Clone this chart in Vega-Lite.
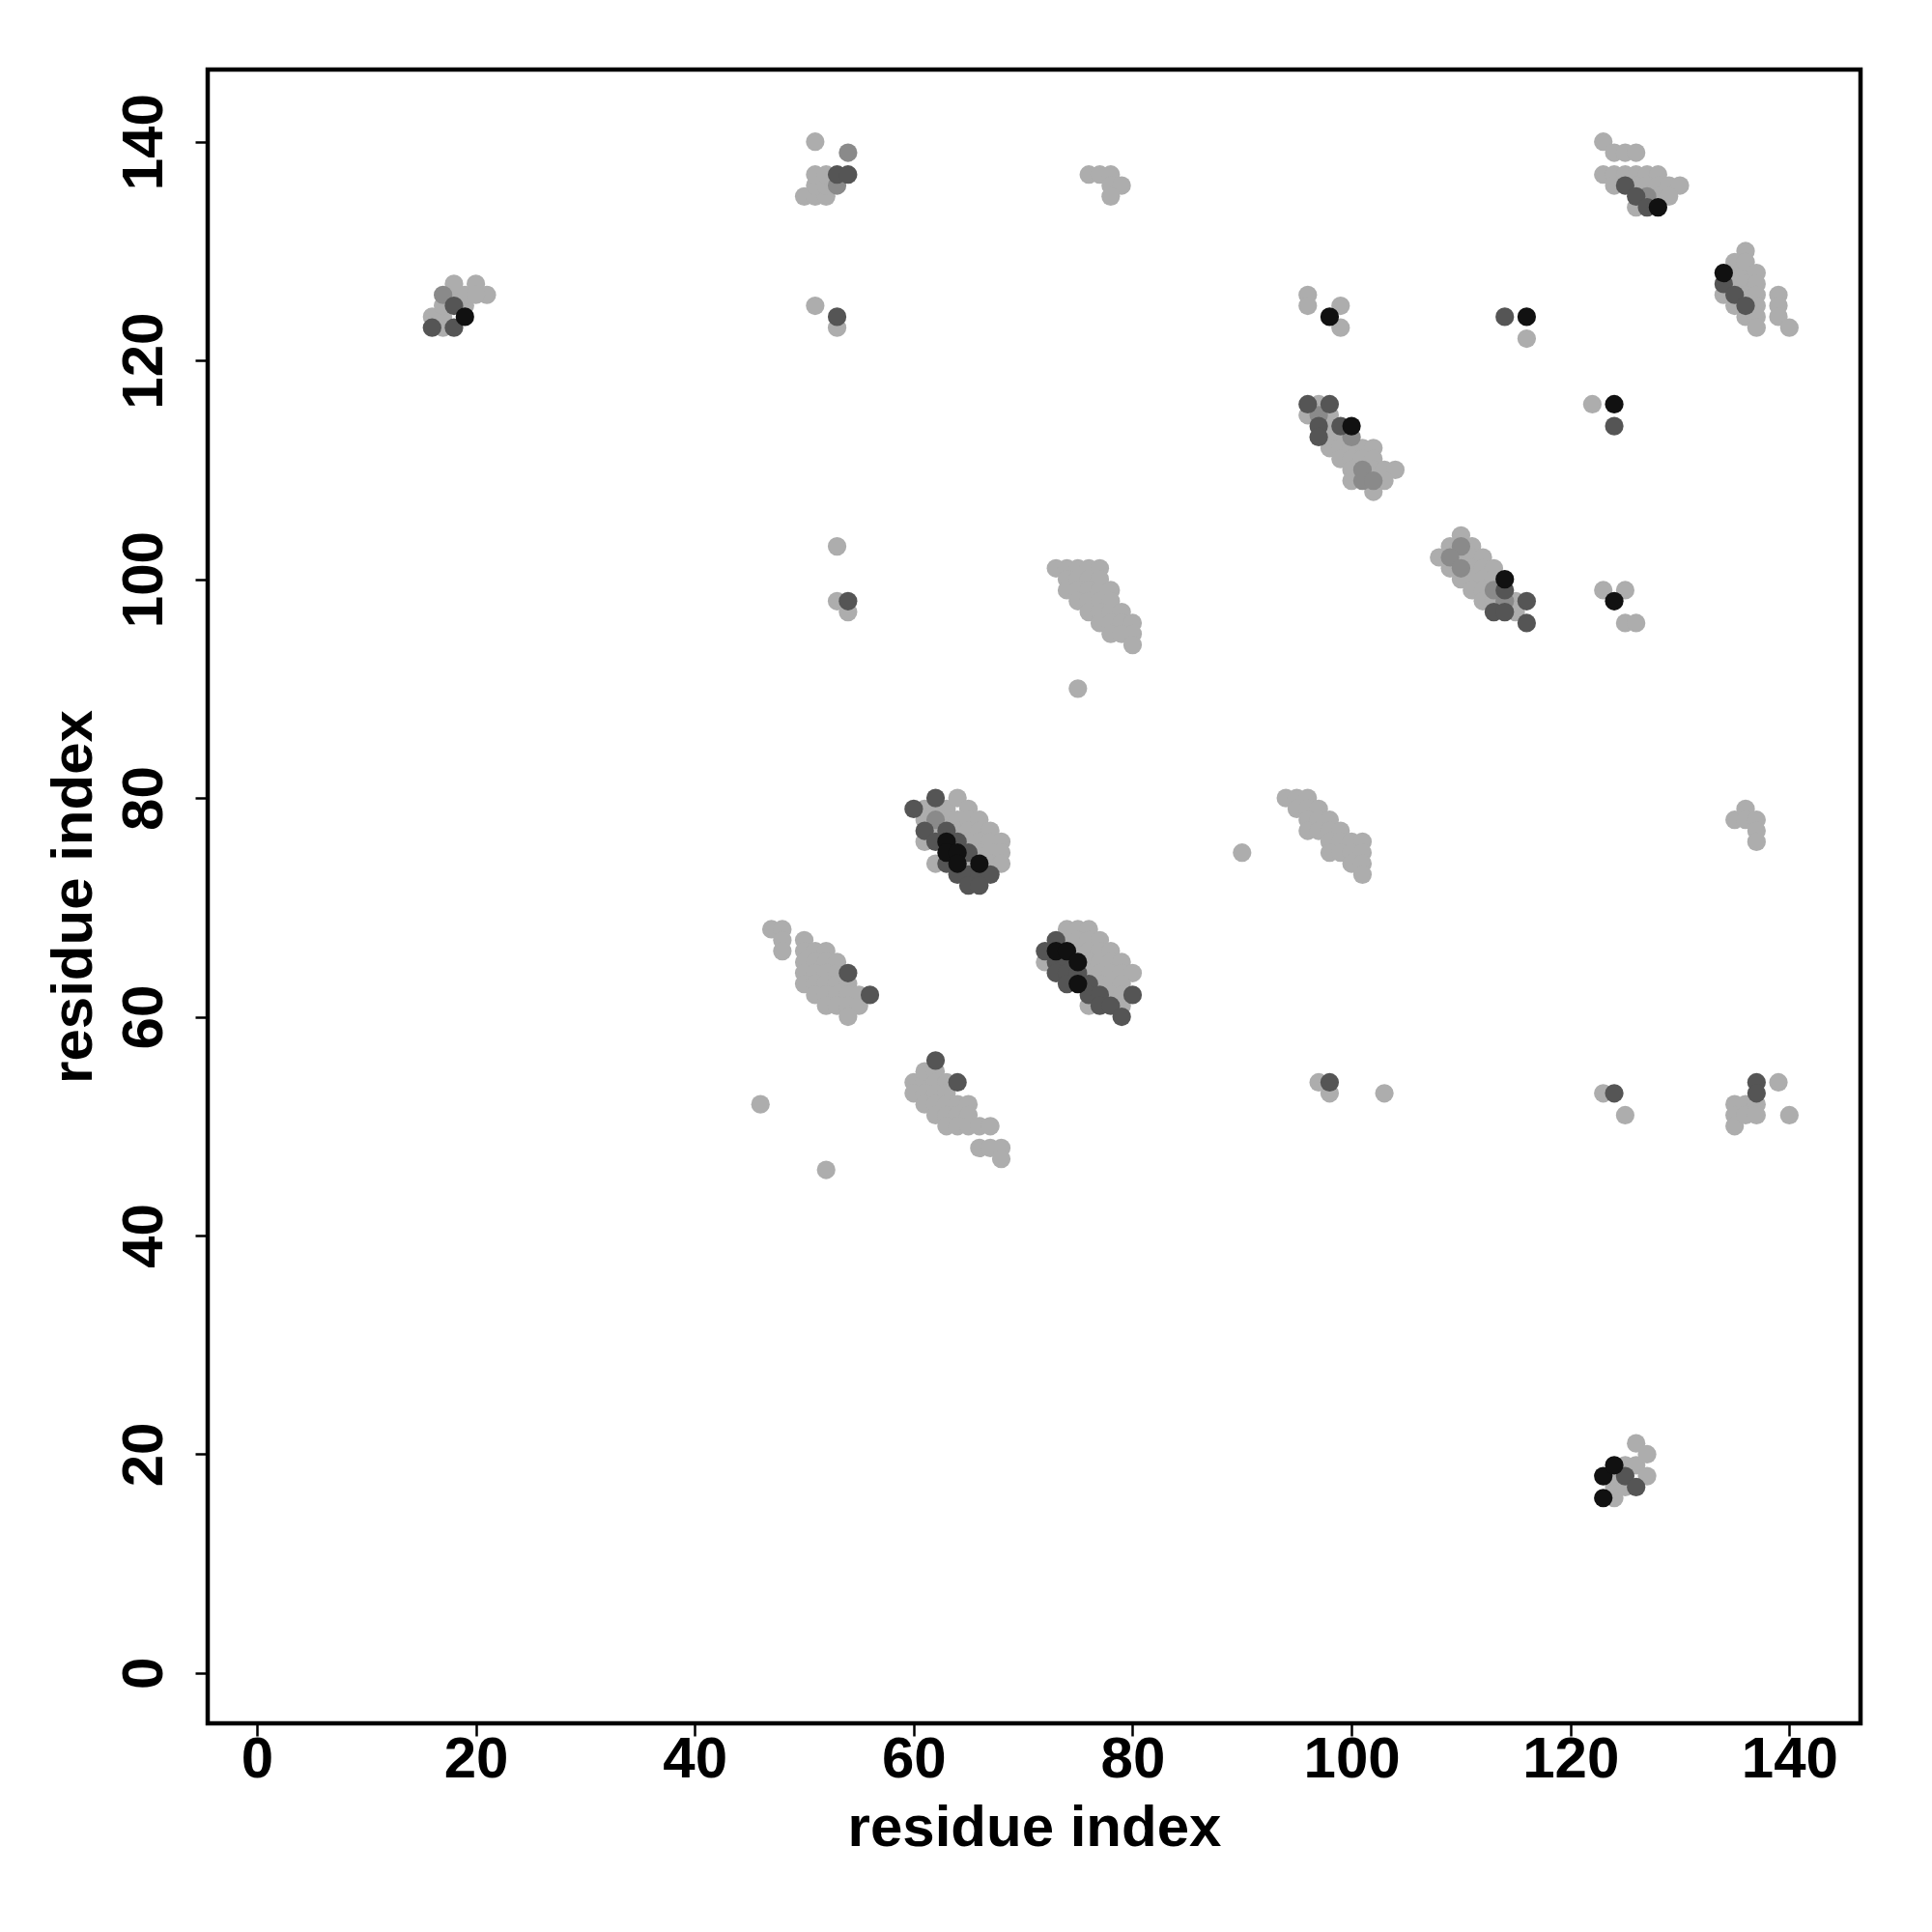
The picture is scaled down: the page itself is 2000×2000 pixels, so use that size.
{
  "$schema": "https://vega.github.io/schema/vega-lite/v6.json",
  "autosize": {"type": "none"},
  "width": 1711,
  "height": 1712,
  "padding": {"left": 215, "top": 72, "right": 74, "bottom": 216},
  "background": "white",
  "config": {
    "view": {"stroke": "black", "strokeWidth": 4.5},
    "font": "Liberation Sans",
    "axis": {
      "grid": false,
      "domain": false,
      "ticks": true,
      "tickColor": "black",
      "tickWidth": 2.5,
      "tickSize": 13,
      "labelFont": "Liberation Sans",
      "labelFontWeight": "bold",
      "labelFontSize": 60,
      "labelColor": "black",
      "titleFont": "Liberation Sans",
      "titleFontWeight": "bold",
      "titleFontSize": 60,
      "titleColor": "black"
    }
  },
  "data": {"values": [
    {"x":16,"y":123,"g":3},{"x":17,"y":123,"g":1},{"x":18,"y":123,"g":3},{"x":16,"y":124,"g":1},{"x":17,"y":124,"g":1},{"x":19,"y":124,"g":4},{"x":17,"y":125,"g":1},{"x":18,"y":125,"g":3},{"x":19,"y":125,"g":1},{"x":17,"y":126,"g":2},{"x":18,"y":126,"g":1},{"x":19,"y":126,"g":1},{"x":18,"y":127,"g":1},{"x":20,"y":127,"g":1},{"x":21,"y":126,"g":1},{"x":20,"y":126,"g":1},
    {"x":50,"y":135,"g":1},{"x":51,"y":135,"g":1},{"x":52,"y":135,"g":1},{"x":51,"y":136,"g":1},{"x":52,"y":136,"g":1},{"x":53,"y":136,"g":2},{"x":51,"y":137,"g":1},{"x":52,"y":137,"g":1},{"x":53,"y":137,"g":3},{"x":54,"y":137,"g":3},{"x":54,"y":139,"g":2},{"x":51,"y":140,"g":1},
    {"x":51,"y":125,"g":1},{"x":53,"y":124,"g":3},{"x":53,"y":123,"g":1},
    {"x":76,"y":137,"g":1},{"x":77,"y":137,"g":1},{"x":78,"y":137,"g":1},{"x":78,"y":136,"g":1},{"x":79,"y":136,"g":1},{"x":78,"y":135,"g":1},
    {"x":123,"y":140,"g":1},{"x":124,"y":139,"g":1},{"x":125,"y":139,"g":1},{"x":126,"y":139,"g":1},
    {"x":123,"y":137,"g":1},{"x":124,"y":137,"g":1},{"x":125,"y":137,"g":1},{"x":126,"y":137,"g":1},{"x":127,"y":137,"g":1},{"x":128,"y":137,"g":1},
    {"x":124,"y":136,"g":1},{"x":125,"y":136,"g":3},{"x":126,"y":136,"g":1},{"x":127,"y":136,"g":1},{"x":128,"y":136,"g":1},{"x":129,"y":136,"g":1},{"x":130,"y":136,"g":1},
    {"x":126,"y":135,"g":3},{"x":127,"y":135,"g":2},{"x":128,"y":135,"g":1},{"x":129,"y":135,"g":1},
    {"x":126,"y":134,"g":1},{"x":127,"y":134,"g":3},{"x":128,"y":134,"g":4},
    {"x":134,"y":128,"g":4},{"x":135,"y":128,"g":1},{"x":136,"y":128,"g":1},{"x":136,"y":130,"g":1},{"x":135,"y":129,"g":1},{"x":136,"y":129,"g":1},{"x":137,"y":128,"g":1},
    {"x":134,"y":127,"g":3},{"x":135,"y":127,"g":1},{"x":136,"y":127,"g":1},{"x":137,"y":127,"g":1},
    {"x":134,"y":126,"g":1},{"x":135,"y":126,"g":3},{"x":136,"y":126,"g":1},{"x":137,"y":126,"g":1},
    {"x":135,"y":125,"g":1},{"x":136,"y":125,"g":3},{"x":137,"y":125,"g":1},{"x":136,"y":124,"g":1},{"x":137,"y":124,"g":1},{"x":137,"y":123,"g":1},
    {"x":139,"y":126,"g":1},{"x":139,"y":125,"g":1},{"x":139,"y":124,"g":1},{"x":140,"y":123,"g":1},
    {"x":96,"y":126,"g":1},{"x":96,"y":125,"g":1},{"x":99,"y":125,"g":1},{"x":98,"y":124,"g":4},{"x":99,"y":123,"g":1},
    {"x":96,"y":116,"g":3},{"x":97,"y":116,"g":1},{"x":98,"y":116,"g":3},{"x":96,"y":115,"g":1},{"x":97,"y":115,"g":2},{"x":98,"y":115,"g":1},
    {"x":97,"y":114,"g":3},{"x":98,"y":114,"g":1},{"x":99,"y":114,"g":3},{"x":100,"y":114,"g":4},
    {"x":97,"y":113,"g":3},{"x":98,"y":113,"g":1},{"x":99,"y":113,"g":1},{"x":100,"y":113,"g":2},
    {"x":98,"y":112,"g":1},{"x":99,"y":112,"g":1},{"x":100,"y":112,"g":1},{"x":101,"y":112,"g":1},{"x":102,"y":112,"g":1},
    {"x":99,"y":111,"g":1},{"x":100,"y":111,"g":1},{"x":101,"y":111,"g":1},{"x":102,"y":111,"g":1},
    {"x":100,"y":110,"g":1},{"x":101,"y":110,"g":2},{"x":102,"y":110,"g":1},{"x":103,"y":110,"g":1},{"x":104,"y":110,"g":1},
    {"x":100,"y":109,"g":1},{"x":101,"y":109,"g":2},{"x":102,"y":109,"g":2},{"x":103,"y":109,"g":1},{"x":102,"y":108,"g":1},
    {"x":110,"y":104,"g":1},{"x":108,"y":102,"g":1},{"x":109,"y":103,"g":1},{"x":110,"y":103,"g":2},{"x":111,"y":103,"g":1},
    {"x":109,"y":102,"g":2},{"x":110,"y":102,"g":1},{"x":111,"y":102,"g":1},{"x":112,"y":102,"g":1},
    {"x":109,"y":101,"g":1},{"x":110,"y":101,"g":2},{"x":111,"y":101,"g":1},{"x":112,"y":101,"g":1},{"x":113,"y":101,"g":1},
    {"x":110,"y":100,"g":1},{"x":111,"y":100,"g":1},{"x":112,"y":100,"g":1},{"x":113,"y":100,"g":1},{"x":114,"y":100,"g":4},
    {"x":111,"y":99,"g":1},{"x":112,"y":99,"g":1},{"x":113,"y":99,"g":2},{"x":114,"y":99,"g":3},
    {"x":112,"y":98,"g":1},{"x":113,"y":98,"g":1},{"x":114,"y":98,"g":2},{"x":115,"y":98,"g":1},{"x":116,"y":98,"g":3},
    {"x":113,"y":97,"g":3},{"x":114,"y":97,"g":3},{"x":115,"y":97,"g":1},{"x":116,"y":96,"g":3},
    {"x":114,"y":124,"g":3},{"x":116,"y":124,"g":4},{"x":116,"y":122,"g":1},
    {"x":122,"y":116,"g":1},{"x":124,"y":116,"g":4},{"x":124,"y":114,"g":3},
    {"x":123,"y":99,"g":1},{"x":125,"y":99,"g":1},{"x":124,"y":98,"g":4},{"x":125,"y":96,"g":1},{"x":126,"y":96,"g":1},
    {"x":73,"y":101,"g":1},{"x":74,"y":101,"g":1},{"x":75,"y":101,"g":1},{"x":76,"y":101,"g":1},{"x":77,"y":101,"g":1},
    {"x":74,"y":100,"g":1},{"x":75,"y":100,"g":1},{"x":76,"y":100,"g":1},{"x":77,"y":100,"g":1},
    {"x":74,"y":99,"g":1},{"x":75,"y":99,"g":1},{"x":76,"y":99,"g":1},{"x":77,"y":99,"g":1},{"x":78,"y":99,"g":1},
    {"x":75,"y":98,"g":1},{"x":76,"y":98,"g":1},{"x":77,"y":98,"g":1},{"x":78,"y":98,"g":1},
    {"x":76,"y":97,"g":1},{"x":77,"y":97,"g":1},{"x":78,"y":97,"g":1},{"x":79,"y":97,"g":1},
    {"x":77,"y":96,"g":1},{"x":78,"y":96,"g":1},{"x":79,"y":96,"g":1},{"x":80,"y":96,"g":1},
    {"x":78,"y":95,"g":1},{"x":79,"y":95,"g":1},{"x":80,"y":95,"g":1},{"x":80,"y":94,"g":1},{"x":75,"y":90,"g":1},
    {"x":94,"y":80,"g":1},{"x":95,"y":80,"g":1},{"x":96,"y":80,"g":1},{"x":95,"y":79,"g":1},{"x":96,"y":79,"g":1},{"x":97,"y":79,"g":1},
    {"x":96,"y":78,"g":1},{"x":97,"y":78,"g":1},{"x":98,"y":78,"g":1},{"x":96,"y":77,"g":1},{"x":97,"y":77,"g":1},{"x":98,"y":77,"g":1},{"x":99,"y":77,"g":1},
    {"x":98,"y":76,"g":1},{"x":99,"y":76,"g":1},{"x":100,"y":76,"g":1},{"x":101,"y":76,"g":1},
    {"x":98,"y":75,"g":1},{"x":99,"y":75,"g":1},{"x":100,"y":75,"g":1},{"x":101,"y":75,"g":1},
    {"x":100,"y":74,"g":1},{"x":101,"y":74,"g":1},{"x":101,"y":73,"g":1},{"x":90,"y":75,"g":1},
    {"x":60,"y":79,"g":3},{"x":61,"y":79,"g":1},{"x":62,"y":80,"g":3},{"x":62,"y":79,"g":1},{"x":63,"y":79,"g":1},{"x":64,"y":80,"g":1},{"x":65,"y":79,"g":1},
    {"x":61,"y":78,"g":1},{"x":62,"y":78,"g":2},{"x":63,"y":78,"g":1},{"x":64,"y":78,"g":1},{"x":65,"y":78,"g":1},{"x":66,"y":78,"g":1},
    {"x":61,"y":77,"g":3},{"x":62,"y":77,"g":1},{"x":63,"y":77,"g":3},{"x":64,"y":77,"g":1},{"x":65,"y":77,"g":1},{"x":66,"y":77,"g":1},{"x":67,"y":77,"g":1},
    {"x":61,"y":76,"g":1},{"x":62,"y":76,"g":3},{"x":63,"y":76,"g":4},{"x":64,"y":76,"g":3},{"x":65,"y":76,"g":1},{"x":66,"y":76,"g":1},{"x":67,"y":76,"g":1},{"x":68,"y":76,"g":1},
    {"x":63,"y":75,"g":4},{"x":64,"y":75,"g":4},{"x":65,"y":75,"g":3},{"x":66,"y":75,"g":1},{"x":67,"y":75,"g":1},{"x":68,"y":75,"g":1},
    {"x":62,"y":74,"g":1},{"x":63,"y":74,"g":3},{"x":64,"y":74,"g":4},{"x":65,"y":74,"g":1},{"x":66,"y":74,"g":4},{"x":67,"y":74,"g":1},{"x":68,"y":74,"g":1},
    {"x":64,"y":73,"g":3},{"x":65,"y":73,"g":3},{"x":66,"y":73,"g":3},{"x":67,"y":73,"g":3},{"x":65,"y":72,"g":3},{"x":66,"y":72,"g":3},
    {"x":47,"y":68,"g":1},{"x":48,"y":68,"g":1},{"x":48,"y":67,"g":1},{"x":48,"y":66,"g":1},{"x":50,"y":67,"g":1},{"x":50,"y":66,"g":1},{"x":51,"y":66,"g":1},{"x":52,"y":66,"g":1},
    {"x":50,"y":65,"g":1},{"x":51,"y":65,"g":1},{"x":52,"y":65,"g":1},{"x":53,"y":65,"g":1},
    {"x":50,"y":64,"g":1},{"x":51,"y":64,"g":1},{"x":52,"y":64,"g":1},{"x":53,"y":64,"g":1},{"x":54,"y":64,"g":3},
    {"x":50,"y":63,"g":1},{"x":51,"y":63,"g":1},{"x":52,"y":63,"g":1},{"x":53,"y":63,"g":1},{"x":54,"y":63,"g":1},
    {"x":51,"y":62,"g":1},{"x":52,"y":62,"g":1},{"x":53,"y":62,"g":1},{"x":54,"y":62,"g":1},{"x":55,"y":62,"g":1},{"x":56,"y":62,"g":3},
    {"x":52,"y":61,"g":1},{"x":53,"y":61,"g":1},{"x":54,"y":61,"g":1},{"x":55,"y":61,"g":1},{"x":54,"y":60,"g":1},
    {"x":46,"y":52,"g":1},{"x":52,"y":46,"g":1},
    {"x":72,"y":66,"g":3},{"x":73,"y":67,"g":3},{"x":74,"y":68,"g":1},{"x":75,"y":68,"g":1},{"x":76,"y":68,"g":1},
    {"x":74,"y":67,"g":1},{"x":75,"y":67,"g":1},{"x":76,"y":67,"g":1},{"x":77,"y":67,"g":1},
    {"x":72,"y":65,"g":1},{"x":73,"y":65,"g":3},{"x":73,"y":66,"g":4},{"x":74,"y":66,"g":4},{"x":75,"y":66,"g":1},{"x":76,"y":66,"g":1},{"x":77,"y":66,"g":1},{"x":78,"y":66,"g":1},
    {"x":74,"y":65,"g":3},{"x":75,"y":65,"g":4},{"x":76,"y":65,"g":1},{"x":77,"y":65,"g":1},{"x":78,"y":65,"g":1},{"x":79,"y":65,"g":1},
    {"x":73,"y":64,"g":3},{"x":74,"y":64,"g":3},{"x":75,"y":64,"g":3},{"x":76,"y":64,"g":1},{"x":77,"y":64,"g":1},{"x":78,"y":64,"g":1},{"x":79,"y":64,"g":1},{"x":80,"y":64,"g":1},
    {"x":74,"y":63,"g":3},{"x":75,"y":63,"g":4},{"x":76,"y":63,"g":3},{"x":77,"y":63,"g":1},{"x":78,"y":63,"g":1},{"x":79,"y":63,"g":1},
    {"x":76,"y":62,"g":3},{"x":77,"y":62,"g":3},{"x":78,"y":62,"g":1},{"x":79,"y":62,"g":1},{"x":80,"y":62,"g":3},
    {"x":76,"y":61,"g":1},{"x":77,"y":61,"g":3},{"x":78,"y":61,"g":3},{"x":79,"y":61,"g":1},{"x":79,"y":60,"g":3},
    {"x":60,"y":54,"g":1},{"x":61,"y":54,"g":1},{"x":62,"y":56,"g":3},{"x":61,"y":55,"g":1},{"x":62,"y":55,"g":1},{"x":62,"y":54,"g":1},{"x":63,"y":54,"g":1},{"x":64,"y":54,"g":3},
    {"x":60,"y":53,"g":1},{"x":61,"y":53,"g":1},{"x":62,"y":53,"g":1},{"x":63,"y":53,"g":1},
    {"x":61,"y":52,"g":1},{"x":62,"y":52,"g":1},{"x":63,"y":52,"g":1},{"x":64,"y":52,"g":1},{"x":65,"y":52,"g":1},
    {"x":62,"y":51,"g":1},{"x":63,"y":51,"g":1},{"x":64,"y":51,"g":1},{"x":65,"y":51,"g":1},
    {"x":63,"y":50,"g":1},{"x":64,"y":50,"g":1},{"x":65,"y":50,"g":1},{"x":66,"y":50,"g":1},{"x":67,"y":50,"g":1},
    {"x":66,"y":48,"g":1},{"x":67,"y":48,"g":1},{"x":68,"y":48,"g":1},{"x":68,"y":47,"g":1},
    {"x":97,"y":54,"g":1},{"x":98,"y":54,"g":3},{"x":98,"y":53,"g":1},{"x":103,"y":53,"g":1},{"x":123,"y":53,"g":1},{"x":124,"y":53,"g":3},{"x":125,"y":51,"g":1},
    {"x":135,"y":52,"g":1},{"x":135,"y":51,"g":1},{"x":135,"y":50,"g":1},{"x":136,"y":52,"g":1},{"x":136,"y":51,"g":1},{"x":137,"y":54,"g":3},{"x":137,"y":53,"g":3},{"x":137,"y":52,"g":1},{"x":137,"y":51,"g":1},{"x":139,"y":54,"g":1},{"x":140,"y":51,"g":1},
    {"x":135,"y":78,"g":1},{"x":136,"y":79,"g":1},{"x":136,"y":78,"g":1},{"x":137,"y":78,"g":1},{"x":137,"y":77,"g":1},{"x":137,"y":76,"g":1},
    {"x":53,"y":103,"g":1},{"x":53,"y":98,"g":1},{"x":54,"y":98,"g":3},{"x":54,"y":97,"g":1},
    {"x":123,"y":16,"g":4},{"x":123,"y":18,"g":4},{"x":124,"y":19,"g":4},{"x":124,"y":17,"g":1},{"x":124,"y":16,"g":1},{"x":124,"y":18,"g":1},{"x":125,"y":17,"g":1},{"x":125,"y":18,"g":3},{"x":125,"y":19,"g":1},{"x":126,"y":19,"g":1},{"x":126,"y":21,"g":1},{"x":127,"y":20,"g":1},{"x":127,"y":18,"g":1},{"x":126,"y":17,"g":3}
  ]},
  "mark": {"type": "circle", "size": 370, "opacity": 1},
  "encoding": {
    "x": {"field": "x", "type": "quantitative", "scale": {"domain": [-4.5, 146.5], "nice": false, "zero": false},
      "axis": {"values": [0, 20, 40, 60, 80, 100, 120, 140], "title": "residue index", "labelPadding": -5, "titlePadding": 12}},
    "y": {"field": "y", "type": "quantitative", "scale": {"domain": [-4.6, 146.6], "nice": false, "zero": false},
      "axis": {"values": [0, 20, 40, 60, 80, 100, 120, 140], "title": "residue index", "labelAngle": -90, "labelAlign": "center", "labelBaseline": "bottom", "labelPadding": 22, "titlePadding": 12}},
    "color": {"field": "g", "type": "ordinal", "scale": {"domain": [1, 2, 3, 4], "range": ["#adadad", "#8a8a8a", "#555555", "#111111"]}, "legend": null},
    "order": {"field": "g", "type": "quantitative"}
  }
}
